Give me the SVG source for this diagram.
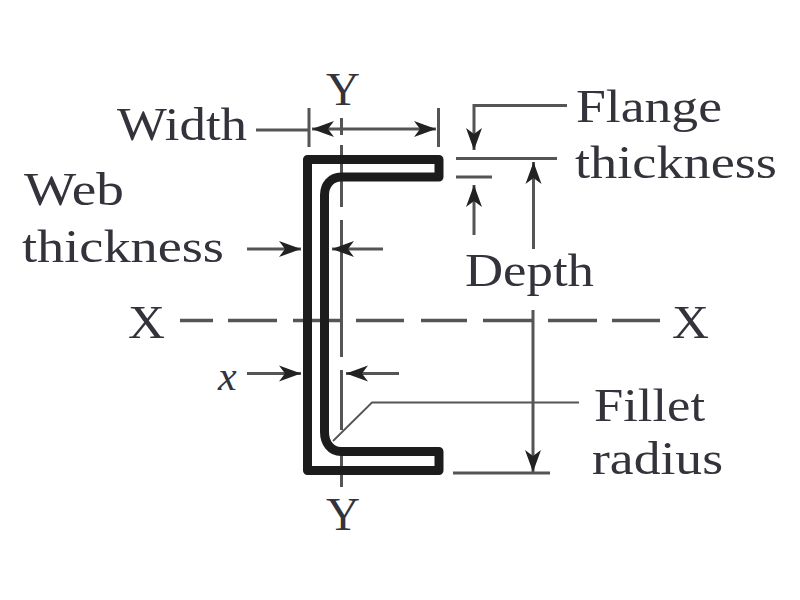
<svg xmlns="http://www.w3.org/2000/svg" width="800" height="600" viewBox="0 0 800 600">
<defs>
<marker id="a" markerUnits="userSpaceOnUse" markerWidth="24" markerHeight="20" refX="22" refY="10" orient="auto-start-reverse"><path d="M0 2L22 10L0 18L6 10Z" fill="#222"/></marker>
</defs>
<style>
.t{font-family:"Liberation Serif",serif;font-size:47px;fill:#33333c;lengthAdjust:spacingAndGlyphs}
.l{fill:none;stroke:#555;stroke-width:3}
.h{fill:none;stroke:#555;stroke-width:1.8}
.s{fill:none;stroke:#1c1c1c;stroke-width:9;stroke-linejoin:round}
</style>
<rect width="800" height="600" fill="#fff"/>
<g id="connectors">
<path class="l" d="M341.500 145V207M341.500 220V357M341.500 370V430M341.500 455V487M341.500 118V135"/>
<path class="l" d="M180 320.500H213M228 320.500H277M293 320.500H340M356 320.500H404M421 320.500H467M483 320.500H533M548 320.500H597M612 320.500H660" style="stroke-width:3.500"/>
<path class="l" d="M309 108V147M438.500 108V147"/>
<path class="l" d="M256 130H309"/>
<path class="l" marker-start="url(#a)" marker-end="url(#a)" d="M312 129H436"/>
<path class="l" marker-end="url(#a)" d="M567 105.500H474V150"/>
<path class="l" d="M456 158.500H557M456 177H492"/>
<path class="l" marker-end="url(#a)" d="M474 235V185"/>
<path class="l" marker-end="url(#a)" d="M533.500 249V162"/>
<path class="l" marker-end="url(#a)" d="M533 310V472"/>
<path class="l" d="M453 473H550"/>
<path class="l" marker-end="url(#a)" d="M247 249H301"/>
<path class="l" marker-end="url(#a)" d="M383 249H332"/>
<path class="l" marker-end="url(#a)" d="M247 373.500H301"/>
<path class="l" marker-end="url(#a)" d="M399 373.500H346"/>
<path class="h" d="M333 441L372 402.500H579"/>
</g>
<g id="channel"><path class="s" d="M307.500 159.500H439V177H341C331 177 324.500 185 324.500 195V432C324.500 443 331 451.500 341 451.500H439V470.500H307.500Z"/></g>
<g id="labels">
<text class="t" x="326" y="105" textLength="34" lengthAdjust="spacingAndGlyphs">Y</text>
<text class="t" x="326" y="530" textLength="34" lengthAdjust="spacingAndGlyphs">Y</text>
<text class="t" x="128" y="338" textLength="37" lengthAdjust="spacingAndGlyphs">X</text>
<text class="t" x="672" y="338" textLength="37" lengthAdjust="spacingAndGlyphs">X</text>
<text class="t" x="117" y="140" textLength="130" lengthAdjust="spacingAndGlyphs">Width</text>
<text class="t" x="24" y="205" textLength="100" lengthAdjust="spacingAndGlyphs">Web</text>
<text class="t" x="22" y="262" textLength="202" lengthAdjust="spacingAndGlyphs">thickness</text>
<text class="t" x="576" y="122" textLength="146" lengthAdjust="spacingAndGlyphs">Flange</text>
<text class="t" x="575" y="178" textLength="202" lengthAdjust="spacingAndGlyphs">thickness</text>
<text class="t" x="465" y="286" textLength="129" lengthAdjust="spacingAndGlyphs">Depth</text>
<text class="t" x="594" y="421" textLength="111" lengthAdjust="spacingAndGlyphs">Fillet</text>
<text class="t" x="592" y="474" textLength="131" lengthAdjust="spacingAndGlyphs">radius</text>
<text class="t" x="218" y="390" style="font-style:italic;font-size:42px">x</text>
</g>
</svg>
